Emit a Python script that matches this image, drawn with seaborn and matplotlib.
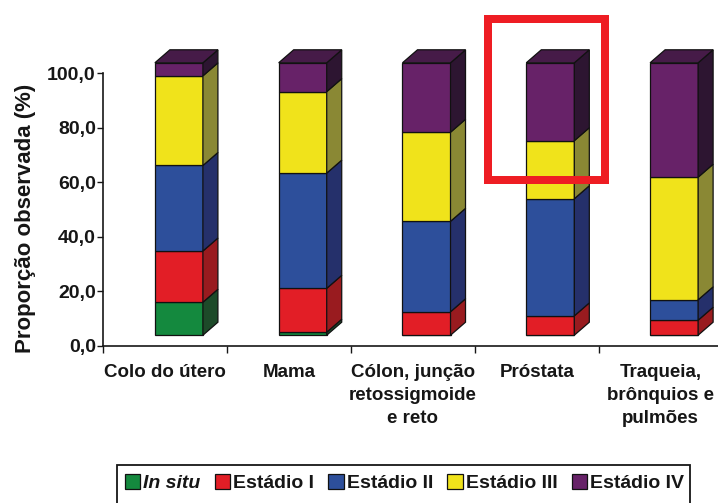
import numpy as np
import pandas as pd
import matplotlib
matplotlib.use("Agg")
import matplotlib.pyplot as plt
import matplotlib.transforms as mtransforms
from matplotlib.patches import Polygon, Rectangle, Patch
import seaborn as sns

# ---- data -------------------------------------------------------------
categories = [
    "Colo do útero",
    "Mama",
    "Cólon, junção\nretossigmoide\ne reto",
    "Próstata",
    "Traqueia,\nbrônquios e\npulmões",
]
stages = ["In situ", "Estádio I", "Estádio II", "Estádio III", "Estádio IV"]
in_situ = [12.1, 1.1, 0.0, 0.0, 0.0]
estadio_1 = [18.8, 16.1, 8.6, 7.1, 5.5]
estadio_2 = [31.4, 42.3, 33.2, 43.0, 7.5]
estadio_3 = [32.9, 29.9, 32.7, 21.3, 45.0]
estadio_4 = [4.8, 10.6, 25.5, 28.6, 42.0]
y_ticks = [0, 20, 40, 60, 80, 100]
y_tick_labels = ["0,0", "20,0", "40,0", "60,0", "80,0", "100,0"]

# ---- styling ----------------------------------------------------------
front_colors = ["#14893e", "#e21e26", "#2d4f9b", "#f0e31b", "#672268"]
side_colors = ["#1d4a29", "#991b1f", "#25306b", "#8a8834", "#2d1531"]
top_color = "#461b48"
ink = "#161616"
edge_kw = dict(edgecolor="#111111", linewidth=0.9)

sns.set_theme(style="white")
plt.rcParams["font.family"] = ["Liberation Sans", "DejaVu Sans"]

W, H, DPI = 718, 503, 100
fig = plt.figure(figsize=(W / DPI, H / DPI), dpi=DPI)
ax = fig.add_axes([103.5 / W, 157.3 / H, 619 / W, 272.4 / H])
ax.set_xlim(-0.5, 4.5)
ax.set_ylim(0, 100)

series = [in_situ, estadio_1, estadio_2, estadio_3, estadio_4]
long_df = pd.DataFrame(
    [(c, s, v) for s, vals in zip(stages, series) for c, v in zip(categories, vals)],
    columns=["categoria", "estadio", "valor"],
)

# stacked front faces, one seaborn call per stage
bar_groups = []
bottom = np.zeros(len(categories))
for stage, fc in zip(stages, front_colors):
    sub = long_df[long_df["estadio"] == stage]
    n0 = len(ax.patches)
    sns.barplot(
        data=sub, x="categoria", y="valor", order=categories,
        bottom=bottom.copy(), color=fc, saturation=1, width=0.388,
        errorbar=None, ax=ax, **edge_kw,
    )
    bar_groups.append(ax.patches[n0:])
    bottom += sub["valor"].to_numpy()

ax.set_xlim(-0.5, 4.5)
ax.set_ylim(0, 100)

# pseudo-3D: shift the boxes slightly and add side and top faces
shift = mtransforms.ScaledTranslation(13.5 / DPI, 10.5 / DPI, fig.dpi_scale_trans)
box_trans = ax.transData + shift
px_x = ax.bbox.width / 5.0
px_y = ax.bbox.height / 100.0
dx, dy = 15 / px_x, 13 / px_y

for k, (patches, sc) in enumerate(zip(bar_groups, side_colors)):
    for p in patches:
        p.set_transform(box_trans)
        p.set_clip_on(False)
        x, y, w, h = p.get_x(), p.get_y(), p.get_width(), p.get_height()
        if h <= 0:
            continue
        side = Polygon(
            [(x + w, y), (x + w, y + h), (x + w + dx, y + h + dy), (x + w + dx, y + dy)],
            closed=True, facecolor=sc, transform=box_trans, clip_on=False, **edge_kw,
        )
        ax.add_patch(side)
        if k == len(bar_groups) - 1:
            top = Polygon(
                [(x, y + h), (x + w, y + h), (x + w + dx, y + h + dy), (x + dx, y + h + dy)],
                closed=True, facecolor=top_color, transform=box_trans, clip_on=False, **edge_kw,
            )
            ax.add_patch(top)

# ---- axes -------------------------------------------------------------
sns.despine(ax=ax)
for s in ("left", "bottom"):
    ax.spines[s].set_color(ink)
    ax.spines[s].set_linewidth(1.2)

ax.set_yticks(y_ticks)
ax.set_yticklabels(y_tick_labels, fontsize=14, fontweight="bold", color=ink)
ax.tick_params(axis="y", left=True, direction="out", length=4, width=1.0, pad=1.5, color=ink)

ax.set_xticks(range(len(categories)))
ax.set_xticklabels(categories, fontsize=13.5, fontweight="bold", color=ink, linespacing=1.45)
ax.tick_params(axis="x", which="major", length=0, pad=13.5)
ax.set_xticks(np.arange(-0.5, 5.0, 1.0), minor=True)
ax.tick_params(axis="x", which="minor", bottom=True, direction="out", length=5, width=1.0, color=ink)
ax.set_xlabel("")

ax.set_ylabel("Proporção observada (%)", fontsize=16, fontweight="bold", color=ink)
ax.yaxis.set_label_coords(-0.109, 0.469)

# highlight around the Próstata top segment
ax.add_patch(Rectangle((2.602, 60.8), 0.949, 59.1, fill=False, edgecolor="#ee1d23",
                       linewidth=5.76, joinstyle="miter", clip_on=False, zorder=10))

# ---- legend -----------------------------------------------------------
handles = [Patch(facecolor=c, **edge_kw) for c in front_colors]
leg = fig.legend(
    handles, stages, loc="center left", bbox_to_anchor=(117 / W, 1 - 483 / H),
    ncol=5, frameon=False, handlelength=0.78, handleheight=0.78,
    handletextpad=0.18, columnspacing=0.72, borderpad=0.4, borderaxespad=0,
    prop=dict(weight="bold", size=14),
)
for t in leg.get_texts():
    t.set_color(ink)
leg.get_texts()[0].set_style("italic")
fig.add_artist(Rectangle((117 / W, -0.05), (690 - 117) / W, (1 - 465 / H) + 0.05,
                         transform=fig.transFigure, fill=False,
                         edgecolor=ink, linewidth=1.3))

fig.savefig("out.png", dpi=DPI)
